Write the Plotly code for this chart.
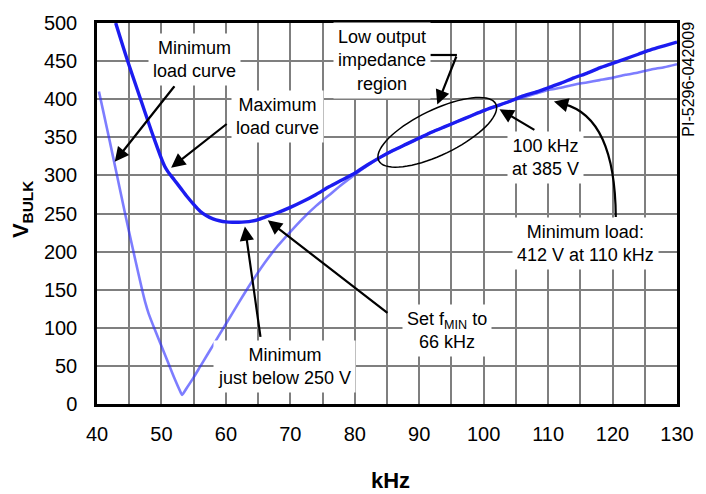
import math
import plotly.graph_objects as go

# ---- data: bulk voltage vs. switching frequency ----
freq_max = [42.9, 44, 45, 46, 47, 48, 49, 50, 50.5, 51, 52, 53, 54, 55, 56, 57, 58, 59,
            60, 61, 62, 63, 64, 65, 66, 68, 70, 72, 74, 76, 78, 80, 82, 84, 86, 88, 90,
            92, 94, 96, 98, 100, 102, 104, 106, 108, 110, 112, 114, 116, 118, 120,
            122, 124, 126, 128, 130]
v_max = [500, 470, 444, 419, 394, 369, 345, 322, 312, 305, 294, 283, 272, 262, 253, 247,
         243, 240.5, 239, 238.5, 238.5, 239, 240, 242, 245, 251, 258, 266, 275, 285,
         294, 303, 314, 324, 333, 341, 349, 357, 364, 371, 378, 385, 391, 397, 404,
         409, 415, 421, 428, 434, 441, 447, 453, 459, 465, 470, 475]

freq_min = [40.3, 41, 42, 43, 44, 45, 46, 47, 47.5, 48, 49, 50, 51, 52, 53, 53.2, 54, 55,
            56, 57, 58, 60, 62, 64, 66, 68, 70, 72, 74, 76, 78, 80, 82, 84, 86, 88, 90,
            92, 94, 96, 98, 100, 102, 104, 106, 108, 110, 112, 114, 116, 118, 120,
            122, 124, 126, 128, 130]
v_min = [410, 383, 344, 304, 264, 225, 187, 150, 133, 119, 97, 76, 55, 34, 15, 12, 22,
         35, 49, 63, 77, 105, 133, 160, 185, 207, 226, 244, 260, 274, 288, 301, 313,
         324, 333, 341, 349, 357, 364, 371, 378, 385, 391, 397, 402, 407, 412, 415,
         419, 422, 425, 428, 432, 435, 439, 442, 446]

x_range = [40, 130]
y_range = [0, 500]
x_ticks = list(range(40, 131, 10))
y_ticks = list(range(0, 501, 50))

# ---- page geometry ----
W, H = 706, 494
ML, MR, MT, MB = 97, 21, 15, 90
PW, PH = W - ML - MR, H - MT - MB
KX = (x_range[1] - x_range[0]) / PW   # kHz per pixel
KY = (y_range[1] - y_range[0]) / PH   # volts per pixel

FONT = "Liberation Sans, Arial, Helvetica, sans-serif"

fig = go.Figure()
fig.add_trace(go.Scatter(x=freq_min, y=v_min, mode="lines",
                         line=dict(color="rgba(45,45,255,0.62)", width=2.6,
                                   shape="spline", smoothing=0.6),
                         hoverinfo="skip", showlegend=False))
fig.add_trace(go.Scatter(x=freq_max, y=v_max, mode="lines",
                         line=dict(color="#1c1cf0", width=3.4,
                                   shape="spline", smoothing=0.6),
                         hoverinfo="skip", showlegend=False))

grid = dict(showgrid=True, gridcolor="#7f7f7f", gridwidth=1.5)
fig.update_xaxes(range=x_range, tickvals=x_ticks, zeroline=False, **grid,
                 minor=dict(dtick=5, **grid),
                 showline=True, linecolor="black", linewidth=2.5, mirror=True,
                 ticks="", ticklabelstandoff=10,
                 tickfont=dict(family=FONT, size=20, color="black"))
fig.update_yaxes(range=y_range, tickvals=y_ticks, zeroline=False, **grid,
                 showline=True, linecolor="black", linewidth=2.5, mirror=True,
                 ticks="", ticklabelstandoff=13,
                 tickfont=dict(family=FONT, size=20, color="black"))

# ---- ellipse marking the low output impedance region ----
ecx, ecy = 92.8, 356.5          # centre (kHz, V)
ea, eb, ephi = 66, 23, math.radians(26)   # semi-axes in px, tilt
pts = []
for i in range(73):
    t = 2 * math.pi * i / 72
    dx = ea * math.cos(t) * math.cos(ephi) - eb * math.sin(t) * math.sin(ephi)
    dy = ea * math.cos(t) * math.sin(ephi) + eb * math.sin(t) * math.cos(ephi)
    pts.append((ecx + dx * KX, ecy + dy * KY))
epath = "M " + " L ".join(f"{px:.3f},{py:.3f}" for px, py in pts) + " Z"
fig.add_shape(type="path", path=epath, xref="x", yref="y",
              line=dict(color="black", width=1.5))

# bracket leading from the region label
fig.add_shape(type="line", xref="x", yref="y", x0=91.7, y0=458, x1=95.85, y1=458,
              line=dict(color="black", width=2.2))

# curved arrow for the minimum-load point
fig.add_shape(type="path", xref="x", yref="y",
              path="M 120.5,245.5 Q 120.4,375.3 112.5,393.5",
              line=dict(color="black", width=2.2))

arrow = dict(showarrow=True, arrowhead=2, arrowsize=1.3, arrowwidth=2.2,
             arrowcolor="black", text="", axref="x", ayref="y", xref="x", yref="y")
arrows = [
    # (tail x, tail y, tip x, tip y)
    (52.2, 419, 42.75, 318),
    (60.35, 369, 51.5, 310),
    (95.85, 458, 92.8, 393),
    (108.1, 358.6, 102.45, 386.9),
    (85.3, 118, 66.5, 241),
    (65.4, 86, 62.95, 233),
]
annotations = []
for tx, ty, hx, hy in arrows:
    annotations.append(dict(x=hx, y=hy, ax=tx, ay=ty, **arrow))
# head of the curved arrow
annotations.append(dict(x=110.9, y=397, ax=15, ay=4, xref="x", yref="y",
                        showarrow=True, arrowhead=2, arrowsize=1.3, arrowwidth=2.2,
                        arrowcolor="black", text=""))

label = dict(showarrow=False, xref="x", yref="y", bgcolor="white", borderpad=4,
             align="center", font=dict(family=FONT, size=18, color="black"))
labels = [
    ("Minimum<br>load curve", 55.15, 452),
    ("Maximum<br>load curve", 68.0, 377),
    ("Low output<br>impedance<br>region", 84.2, 451),
    ("100 kHz<br>at 385 V", 109.6, 324),
    ("Minimum load:<br>412 V at 110 kHz", 115.8, 210),
    ("Set f<sub>MIN</sub> to<br>66 kHz", 94.3, 96),
    ("Minimum<br>just below 250 V", 69.1, 49),
]
for txt, lx, ly in labels:
    annotations.append(dict(text=txt, x=lx, y=ly, **label))

# axis titles and drawing number
annotations.append(dict(text="<b>V<sub>BULK</sub></b>", textangle=-90, showarrow=False,
                        xref="paper", yref="paper", x=(21 - ML) / PW, y=(H - MB - 206) / PH,
                        xanchor="center", yanchor="middle",
                        font=dict(family=FONT, size=22, color="black")))
annotations.append(dict(text="<b>kHz</b>", showarrow=False,
                        xref="paper", yref="paper", x=(395 - ML) / PW, y=(H - MB - 482) / PH,
                        xanchor="center", yanchor="middle",
                        font=dict(family=FONT, size=22, color="black")))
annotations.append(dict(text="PI-5296-042009", textangle=-90, showarrow=False,
                        xref="paper", yref="paper", x=(697 - ML) / PW, y=(H - MB - 72) / PH,
                        xanchor="center", yanchor="middle",
                        font=dict(family=FONT, size=16, color="black")))

fig.update_layout(width=W, height=H, margin=dict(l=ML, r=MR, t=MT, b=MB),
                  paper_bgcolor="white", plot_bgcolor="white",
                  annotations=annotations, showlegend=False)

fig.write_html("out.html")
